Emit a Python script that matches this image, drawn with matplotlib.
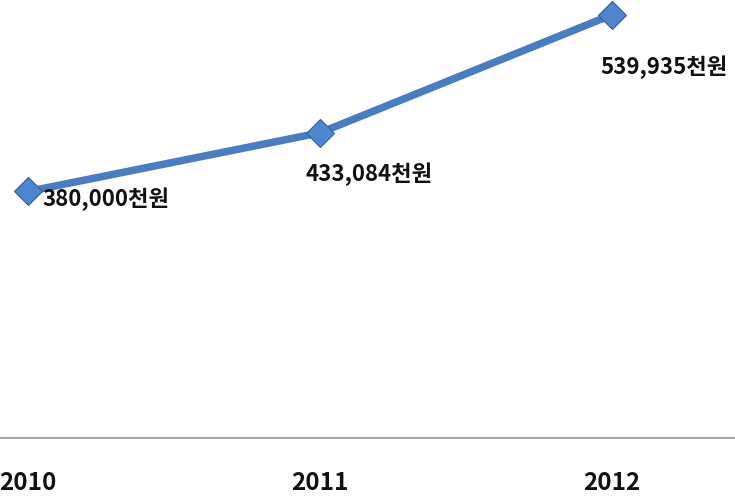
import matplotlib
matplotlib.use("Agg")
import matplotlib.pyplot as plt
import numpy as np

years = ["2010", "2011", "2012"]
values = [380000, 433084, 539935]
labels = ["380,000천원", "433,084천원", "539,935천원"]

plt.rcParams['font.family'] = ['Noto Sans CJK KR', 'DejaVu Sans']

fig = plt.figure(figsize=(7.35, 4.97), dpi=100)
ax = fig.add_axes([0, 1 - 438 / 497, 1, 438 / 497])

x = np.arange(len(years))
ax.plot(x, values, color='#4a7cc0', lw=5.4, solid_capstyle='round', zorder=2)
ax.plot(x, values, linestyle='none', marker='D', markersize=14,
        markerfacecolor='#4f86cf', markeredgecolor='#2f5f9f', markeredgewidth=0.8, zorder=3)

px = 0.72
offsets = [(14, -8), (-15, -41), (-12, -53)]
for xi, v, lab, (dx, dy) in zip(x, values, labels, offsets):
    ax.annotate(lab, (xi, v), xytext=(dx * px, dy * px), textcoords='offset points',
                ha='left', va='center', fontsize=16, fontweight='bold', color='#111111')

ax.set_xlim(-28 / 292, (735 - 28) / 292)
ax.set_ylim(156808, 553296)

ax.set_xticks(x)
ax.set_xticklabels(years, fontsize=17.5, fontweight='bold', color='#111111')
ax.tick_params(axis='x', length=0, pad=24)
ax.set_yticks([])
for s in ['top', 'left', 'right']:
    ax.spines[s].set_visible(False)
ax.spines['bottom'].set_color('#a6a6a6')
ax.spines['bottom'].set_linewidth(1.5)
ax.patch.set_alpha(0)

fig.savefig('out.png', dpi=100)
